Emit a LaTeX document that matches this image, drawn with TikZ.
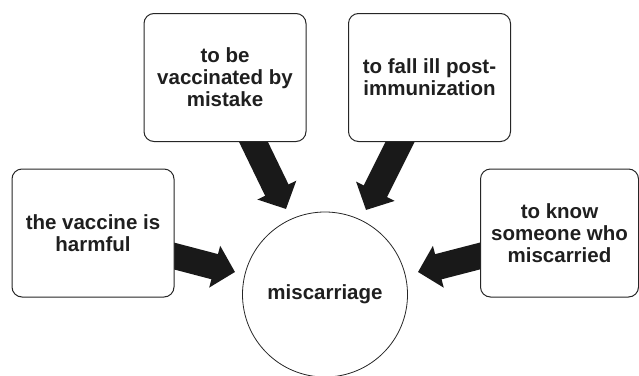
\documentclass[tikz,border=0pt]{standalone}
\usepackage{fontspec}
\setmainfont{Liberation Sans}
\usetikzlibrary{arrows.meta,backgrounds}
\begin{document}
\begin{tikzpicture}[x=1pt,y=-1pt,
  box/.style={draw=black!85, line width=1pt, rounded corners=10pt, fill=white,
    minimum width=162pt, minimum height=128pt, align=center,
    font=\bfseries\fontsize{20.5}{22}\selectfont, text=black!88},
  hub/.style={circle, draw=black!85, line width=0.8pt, minimum size=165pt,
    font=\bfseries\fontsize{20.5}{22}\selectfont, text=black!88},
  fatarrow/.style={line width=26pt, draw=black!90, -{Triangle[length=21pt,width=42pt]}}]
\useasboundingbox (0,0) rectangle (639,375);
\node[box] (L) at (93,233) {the vaccine is\\harmful};
\node[box] (TL) at (225,77.5) {to be\\vaccinated by\\mistake};
\node[box] (TR) at (429.5,77.5) {to fall ill post-\\immunization};
\node[box, minimum width=158pt] (R) at (559.5,233) {to know\\someone who\\miscarried};
\node[hub] (M) at (325,294.5) {miscarriage};
\begin{scope}[on background layer]
  \coordinate (s1) at (150,249.7); \coordinate (t1) at (235,272);
  \coordinate (s2) at (243.8,122); \coordinate (t2) at (286,209);
  \coordinate (s3) at (410,122);   \coordinate (t3) at (366,210);
  \coordinate (s4) at (505,249.5); \coordinate (t4) at (418,272);
  \draw[fatarrow] (s1) -- (t1);
  \draw[fatarrow] (s2) -- (t2);
  \draw[fatarrow] (s3) -- (t3);
  \draw[fatarrow] (s4) -- (t4);
\end{scope}
\end{tikzpicture}
\end{document}
